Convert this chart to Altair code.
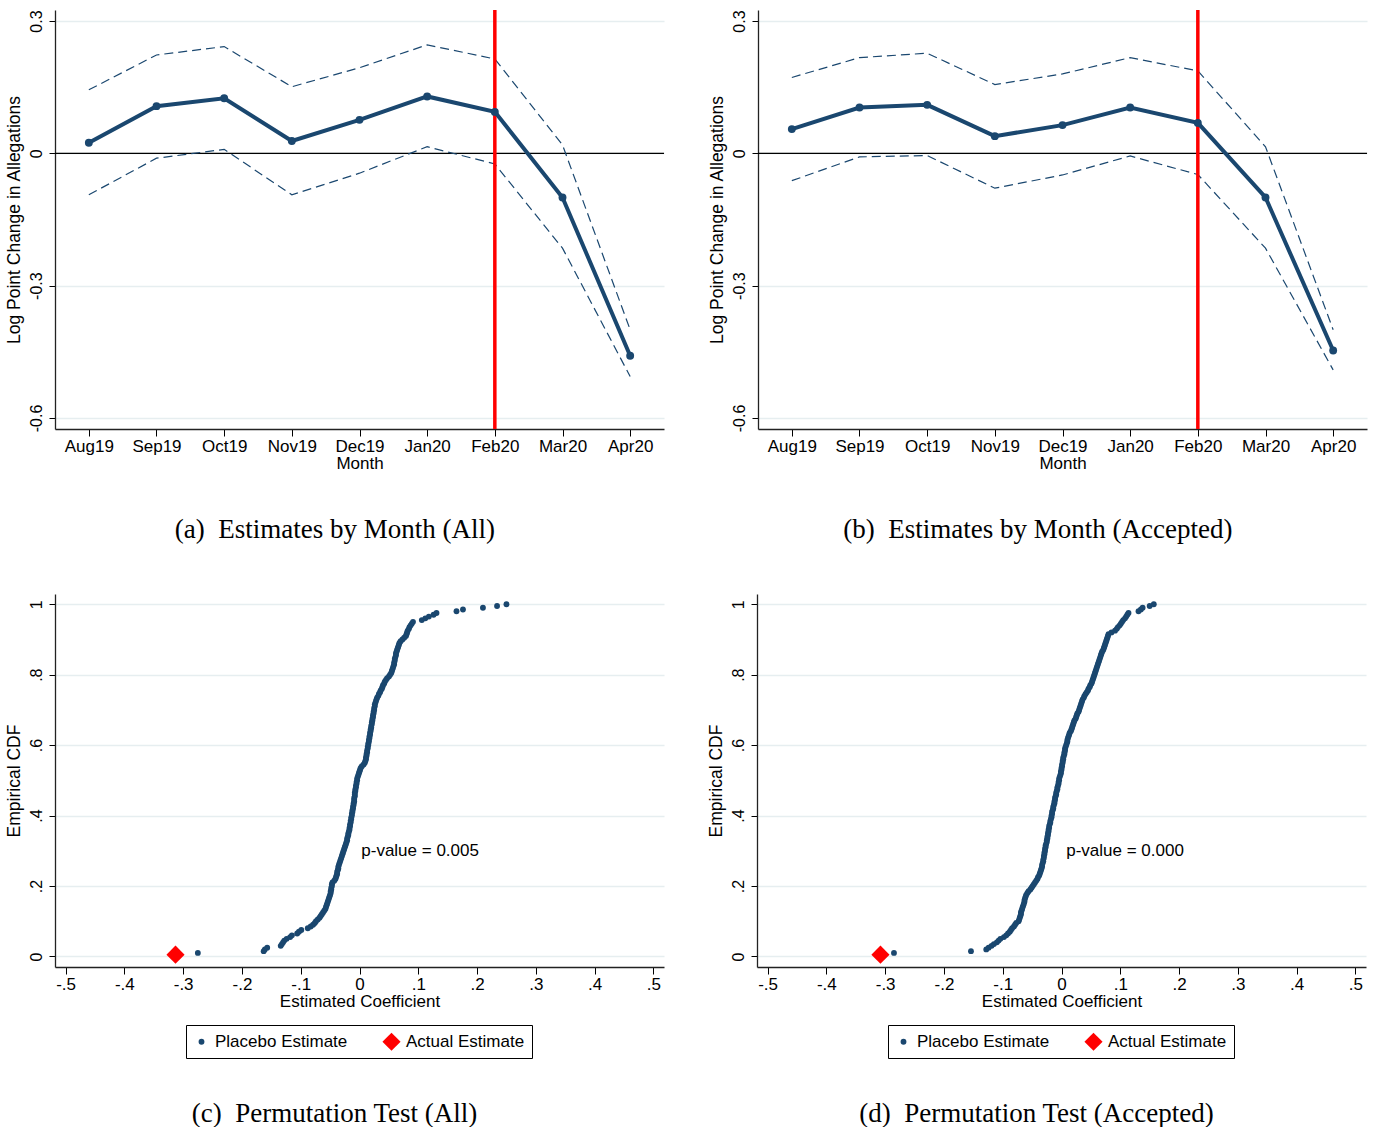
import altair as alt
import pandas as pd

NAVY = "#1a476f"
SANS = "Liberation Sans"
SERIF = "Liberation Serif"

months = ["Aug19", "Sep19", "Oct19", "Nov19", "Dec19", "Jan20", "Feb20", "Mar20", "Apr20"]

all_est = [0.024, 0.107, 0.125, 0.028, 0.076, 0.129, 0.094, -0.100, -0.459]
all_hi = [0.144, 0.223, 0.242, 0.151, 0.194, 0.246, 0.214, 0.019, -0.400]
all_lo = [-0.094, -0.011, 0.009, -0.094, -0.045, 0.015, -0.024, -0.215, -0.506]

acc_est = [0.055, 0.104, 0.110, 0.039, 0.064, 0.104, 0.069, -0.100, -0.447]
acc_hi = [0.172, 0.217, 0.227, 0.156, 0.180, 0.217, 0.187, 0.015, -0.400]
acc_lo = [-0.062, -0.008, -0.005, -0.079, -0.049, -0.006, -0.048, -0.215, -0.491]

event_month = "Feb20"

# sorted placebo estimates (permutation test), read off the empirical CDF
placebo_all = [
    -0.275, -0.163, -0.161, -0.157, -0.134, -0.132, -0.130, -0.128, -0.124, -0.118,
    -0.115, -0.106, -0.103, -0.099, -0.088, -0.083, -0.079, -0.076, -0.074, -0.071,
    -0.068, -0.066, -0.064, -0.062, -0.060, -0.058, -0.057, -0.056, -0.055, -0.054,
    -0.053, -0.052, -0.051, -0.050, -0.049, -0.049, -0.048, -0.048, -0.047, -0.047,
    -0.046, -0.043, -0.041, -0.040, -0.039, -0.038, -0.038, -0.037, -0.036, -0.036,
    -0.035, -0.034, -0.033, -0.032, -0.031, -0.030, -0.029, -0.028, -0.027, -0.026,
    -0.025, -0.024, -0.023, -0.022, -0.021, -0.021, -0.020, -0.019, -0.019, -0.018,
    -0.017, -0.017, -0.016, -0.016, -0.015, -0.015, -0.014, -0.014, -0.013, -0.013,
    -0.012, -0.012, -0.011, -0.011, -0.010, -0.010, -0.009, -0.009, -0.009, -0.008,
    -0.008, -0.008, -0.007, -0.007, -0.006, -0.006, -0.005, -0.005, -0.004, -0.004,
    -0.003, -0.002, -0.001, 0.000, 0.001, 0.002, 0.004, 0.007, 0.009, 0.010,
    0.011, 0.011, 0.012, 0.012, 0.013, 0.013, 0.014, 0.014, 0.015, 0.015,
    0.016, 0.016, 0.017, 0.017, 0.018, 0.018, 0.019, 0.019, 0.020, 0.020,
    0.021, 0.021, 0.022, 0.022, 0.023, 0.023, 0.024, 0.024, 0.025, 0.025,
    0.026, 0.026, 0.027, 0.028, 0.029, 0.030, 0.032, 0.033, 0.035, 0.036,
    0.038, 0.039, 0.040, 0.042, 0.043, 0.045, 0.047, 0.050, 0.052, 0.054,
    0.055, 0.056, 0.057, 0.058, 0.059, 0.059, 0.060, 0.060, 0.061, 0.062,
    0.062, 0.063, 0.064, 0.065, 0.066, 0.067, 0.068, 0.070, 0.073, 0.076,
    0.079, 0.080, 0.081, 0.082, 0.084, 0.085, 0.087, 0.089, 0.091, 0.106,
    0.112, 0.118, 0.126, 0.131, 0.165, 0.176, 0.210, 0.234, 0.250,
]
actual_all = -0.313
pvalue_all = "p-value = 0.005"

placebo_acc = [
    -0.285, -0.154, -0.128, -0.124, -0.119, -0.115, -0.110, -0.107, -0.104, -0.098,
    -0.094, -0.091, -0.088, -0.086, -0.084, -0.081, -0.079, -0.077, -0.073, -0.072,
    -0.071, -0.070, -0.069, -0.069, -0.068, -0.067, -0.066, -0.065, -0.064, -0.063,
    -0.063, -0.062, -0.061, -0.060, -0.058, -0.056, -0.053, -0.051, -0.049, -0.047,
    -0.045, -0.043, -0.041, -0.040, -0.038, -0.037, -0.036, -0.035, -0.034, -0.033,
    -0.033, -0.032, -0.031, -0.031, -0.030, -0.030, -0.029, -0.029, -0.028, -0.028,
    -0.027, -0.027, -0.026, -0.025, -0.025, -0.024, -0.024, -0.023, -0.023, -0.022,
    -0.022, -0.021, -0.021, -0.020, -0.019, -0.019, -0.018, -0.017, -0.017, -0.016,
    -0.016, -0.015, -0.014, -0.014, -0.013, -0.012, -0.012, -0.011, -0.011, -0.010,
    -0.009, -0.009, -0.008, -0.007, -0.007, -0.006, -0.005, -0.005, -0.004, -0.004,
    -0.003, -0.002, -0.001, -0.001, 0.000, 0.000, 0.001, 0.001, 0.002, 0.002,
    0.003, 0.003, 0.004, 0.005, 0.005, 0.006, 0.006, 0.007, 0.008, 0.009,
    0.010, 0.010, 0.011, 0.012, 0.013, 0.014, 0.016, 0.017, 0.018, 0.019,
    0.020, 0.021, 0.022, 0.024, 0.025, 0.026, 0.027, 0.029, 0.030, 0.031,
    0.032, 0.033, 0.034, 0.035, 0.036, 0.038, 0.039, 0.041, 0.043, 0.045,
    0.046, 0.048, 0.049, 0.051, 0.052, 0.053, 0.054, 0.055, 0.056, 0.057,
    0.058, 0.059, 0.060, 0.061, 0.062, 0.063, 0.064, 0.065, 0.066, 0.067,
    0.068, 0.069, 0.071, 0.072, 0.073, 0.074, 0.075, 0.076, 0.077, 0.078,
    0.079, 0.080, 0.085, 0.091, 0.094, 0.096, 0.099, 0.101, 0.103, 0.105,
    0.108, 0.110, 0.112, 0.114, 0.131, 0.135, 0.138, 0.150, 0.157,
]
actual_acc = -0.308
pvalue_acc = "p-value = 0.000"

pvalue_pos_all = (0.003, 0.30)
pvalue_pos_acc = (0.008, 0.30)

captions = [
    "(a)\u00a0 Estimates by Month (All)",
    "(b)\u00a0 Estimates by Month (Accepted)",
    "(c)\u00a0 Permutation Test (All)",
    "(d)\u00a0 Permutation Test (Accepted)",
]

series_names = ["Placebo Estimate", "Actual Estimate"]

TOP_W, TOP_H = 609, 419
BOT_W, BOT_H = 609, 373


def caption(text, offset):
    return alt.TitleParams(
        text, orient="bottom", anchor="middle", frame="bounds",
        font=SERIF, fontSize=27, fontWeight="normal", color="black", offset=offset,
    )


def y_axis_common(title, values, expr):
    return alt.Axis(
        title=title, values=values, labelExpr=expr, grid=True, gridColor="#e6eef0",
        gridWidth=1.3, labelAngle=270, labelAlign="center", labelBaseline="bottom",
        labelFont=SANS, labelFontSize=16, labelColor="black", labelPadding=5,
        tickSize=6, tickColor="black", domainColor="#222222", domainWidth=1.3,
        titleFont=SANS, titleFontSize=17.5, titleFontWeight="normal", titleColor="black",
        titlePadding=5,
    )


def x_axis_common(title, values=None, expr=None):
    kw = dict(
        title=title, labelAngle=0, labelFont=SANS, labelFontSize=17, labelColor="black",
        labelPadding=2, tickSize=7, tickColor="black", domainColor="#222222", domainWidth=1.3,
        grid=False, titleFont=SANS, titleFontSize=17, titleFontWeight="normal",
        titleColor="black", titlePadding=1,
    )
    if values is not None:
        kw["values"] = values
    if expr is not None:
        kw["labelExpr"] = expr
    return alt.Axis(**kw)


def month_panel(est, hi, lo, cap):
    df = pd.DataFrame({"month": months, "est": est, "hi": hi, "lo": lo})
    xs = alt.Scale(type="point", domain=months, padding=0.5)
    ys = alt.Scale(domain=[-0.625, 0.325], nice=False, zero=False)
    xaxis = x_axis_common("Month")
    yexpr = "abs(datum.value) < 1e-9 ? '0' : (datum.value < 0 ? '-' : '') + format(abs(datum.value), '.1f')"
    ytitle = "Log Point Change in Allegations"
    yaxis = y_axis_common(ytitle, [-0.6, -0.3, 0, 0.3], yexpr)

    def X():
        return alt.X("month:O", scale=xs, axis=xaxis, sort=months, title="Month")

    def Y(f):
        return alt.Y(f + ":Q", scale=ys, axis=yaxis, title=ytitle)

    base = alt.Chart(df)
    zero = alt.Chart(pd.DataFrame({"est": [0.0]})).mark_rule(color="black", strokeWidth=1.2).encode(y=Y("est"))
    hi_l = base.mark_line(color=NAVY, strokeWidth=1.2, strokeDash=[9, 5]).encode(x=X(), y=Y("hi"))
    lo_l = base.mark_line(color=NAVY, strokeWidth=1.2, strokeDash=[9, 5]).encode(x=X(), y=Y("lo"))
    vline = alt.Chart(pd.DataFrame({"month": [event_month]})).mark_rule(
        color="#ff0000", strokeWidth=3.5
    ).encode(x=X())
    main = base.mark_line(color=NAVY, strokeWidth=4).encode(x=X(), y=Y("est"))
    pts = base.mark_circle(color=NAVY, size=62, opacity=1).encode(x=X(), y=Y("est"))
    return alt.layer(zero, hi_l, lo_l, vline, main, pts).properties(
        width=TOP_W, height=TOP_H, title=caption(cap, 46)
    )


def perm_panel(placebo, actual, ptext, ppos, cap):
    vals = sorted(placebo)
    n = len(vals) + 1
    rows = [{"x": actual, "cdf": 1.0 / n, "series": "Actual Estimate", "o": 1}]
    for i, v in enumerate(vals):
        rows.append({"x": v, "cdf": (i + 2) / n, "series": "Placebo Estimate", "o": 0})
    df = pd.DataFrame(rows).sort_values("o")
    xs = alt.Scale(domain=[-0.518, 0.518], nice=False, zero=False)
    ys = alt.Scale(domain=[-0.030, 1.029], nice=False, zero=False)
    xexpr = "abs(datum.value) < 1e-9 ? '0' : (datum.value < 0 ? '-' : '') + replace(format(abs(datum.value), '.1f'), '0.', '.')"
    xtitle = "Estimated Coefficient"
    xaxis = x_axis_common(xtitle, [-0.5, -0.4, -0.3, -0.2, -0.1, 0, 0.1, 0.2, 0.3, 0.4, 0.5], xexpr)
    yexpr = "abs(datum.value) < 1e-9 ? '0' : (abs(datum.value - 1) < 1e-9 ? '1' : replace(format(datum.value, '.1f'), '0.', '.'))"
    ytitle = "Empirical CDF"
    yaxis = y_axis_common(ytitle, [0, 0.2, 0.4, 0.6, 0.8, 1.0], yexpr)
    legend = alt.Legend(
        title=None, orient="none", legendX=131, legendY=431, direction="horizontal",
        strokeColor="black", fillColor="white", padding=7,
        labelFont=SANS, labelFontSize=17, labelColor="black", labelOffset=5,
        columnPadding=34, symbolStrokeWidth=0,
    )
    pts = alt.Chart(df).mark_point(filled=True, opacity=1, strokeWidth=0).encode(
        x=alt.X("x:Q", scale=xs, axis=xaxis, title=xtitle),
        y=alt.Y("cdf:Q", scale=ys, axis=yaxis, title=ytitle),
        color=alt.Color("series:N", scale=alt.Scale(domain=series_names, range=[NAVY, "#ff0000"]), legend=legend),
        shape=alt.Shape("series:N", scale=alt.Scale(domain=series_names, range=["circle", "diamond"]), legend=legend),
        size=alt.Size("series:N", scale=alt.Scale(domain=series_names, range=[34, 330]), legend=legend),
        order=alt.Order("o:Q"),
    )
    txt = alt.Chart(pd.DataFrame({"x": [ppos[0]], "cdf": [ppos[1]], "t": [ptext]})).mark_text(
        align="left", baseline="middle", font=SANS, fontSize=17, color="black"
    ).encode(
        x=alt.X("x:Q", scale=xs, axis=xaxis, title=xtitle),
        y=alt.Y("cdf:Q", scale=ys, axis=yaxis, title=ytitle),
        text="t:N",
    )
    return alt.layer(pts, txt).properties(width=BOT_W, height=BOT_H, title=caption(cap, 42))


pa = month_panel(all_est, all_hi, all_lo, captions[0])
pb = month_panel(acc_est, acc_hi, acc_lo, captions[1])
pc = perm_panel(placebo_all, actual_all, pvalue_all, pvalue_pos_all, captions[2])
pd_ = perm_panel(placebo_acc, actual_acc, pvalue_acc, pvalue_pos_acc, captions[3])

row1 = alt.hconcat(pa, pb, spacing=43)
row2 = alt.hconcat(pc, pd_, spacing=43).resolve_scale(color="independent", shape="independent", size="independent")

chart = alt.vconcat(row1, row2, spacing=51).properties(
    padding={"left": 5, "top": 8, "right": 0, "bottom": 0},
    background="white",
).configure_view(stroke=None)

chart.save("out.html", embed_options={"renderer": "svg", "actions": False})
